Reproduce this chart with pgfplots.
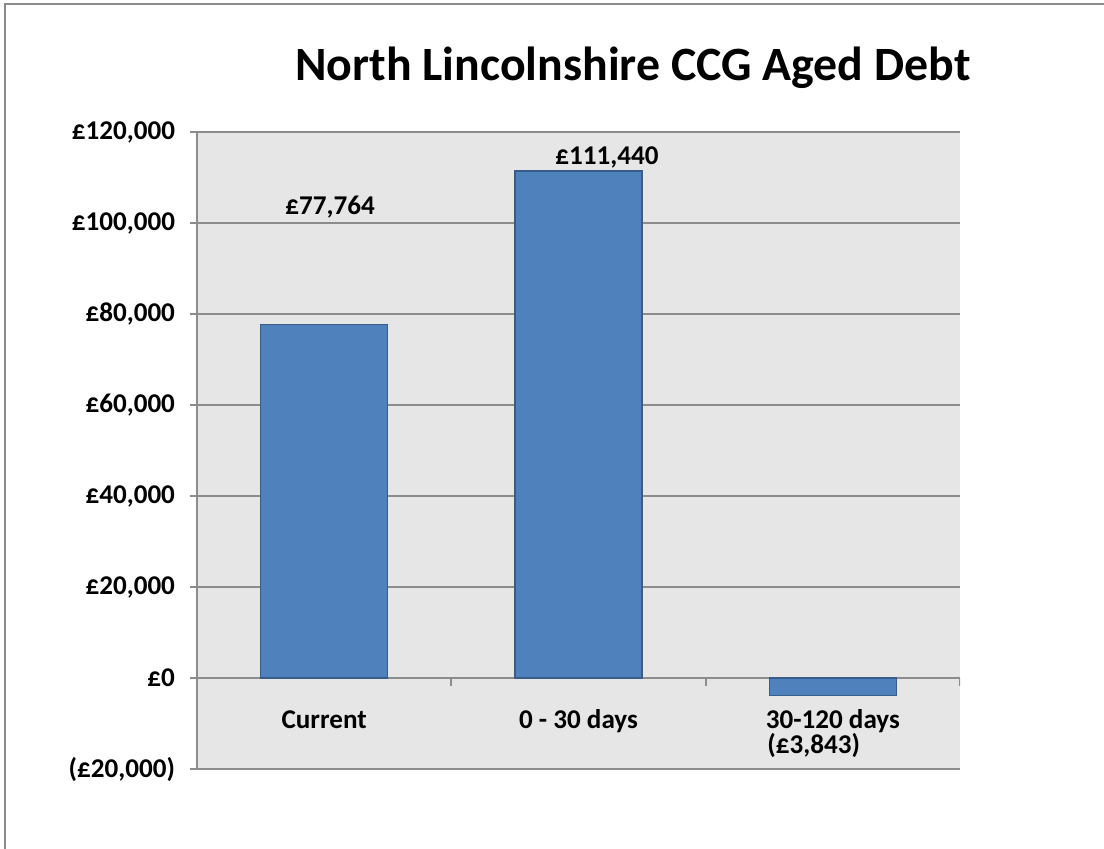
\documentclass[border=0pt]{standalone}
\usepackage{pgfplots}
\pgfplotsset{compat=1.18}
\usepackage{fontspec}
\setmainfont{Carlito}
\definecolor{barfill}{HTML}{4F81BD}
\definecolor{bardraw}{HTML}{385D8A}
\definecolor{plotbg}{HTML}{E6E6E6}
\definecolor{gridc}{HTML}{8C8C8C}
\newcommand{\lblfont}{\bfseries\fontsize{13.6}{16}\selectfont}
\begin{document}
\begin{tikzpicture}
\useasboundingbox (0,0) rectangle (552bp,424.5bp);
\fill[white] (0,0) rectangle (552bp,424.5bp);
\draw[gridc, line width=1bp] (2.5bp,0) -- (2.5bp,422.5bp) -- (552bp,422.5bp);
\node[font=\bfseries\fontsize{24}{28}\selectfont] at (316.5bp,390.5bp) {North Lincolnshire CCG Aged Debt};
\begin{axis}[
  at={(98.5bp,40bp)}, anchor=south west,
  scale only axis, width=381.5bp, height=318.5bp,
  xmin=-0.5, xmax=2.5, ymin=-20000, ymax=120000,
  scaled y ticks=false,
  axis background/.style={fill=plotbg},
  x axis line style={draw=none},
  y axis line style={draw=gridc, line width=1bp},
  axis x line*=bottom, axis y line*=left,
  ytick={-20000,0,20000,40000,60000,80000,100000,120000},
  yticklabels={{(£20,000)},{£0},{£20,000},{£40,000},{£60,000},{£80,000},{£100,000},{£120,000}},
  ymajorgrids, grid style={draw=gridc, line width=1bp},
  ytick style={draw=gridc, line width=1bp},
  tick align=outside, major tick length=3.5bp,
  yticklabel style={font=\lblfont, text=black, xshift=-4bp},
  xtick={0,1,2},
  xticklabels={Current,0 - 30 days,30-120 days},
  x tick style={draw=none},
  xticklabel style={font=\lblfont, text=black, anchor=base, yshift=24bp},
  ybar, bar width=0.5,
]
\addplot[fill=barfill, draw=bardraw, line width=0.6bp] coordinates {(0,77764) (1,111440) (2,-3843)};
\draw[gridc, line width=1bp] (axis cs:0.5,0) -- ([yshift=-4bp]axis cs:0.5,0);
\draw[gridc, line width=1bp] (axis cs:1.5,0) -- ([yshift=-4bp]axis cs:1.5,0);
\draw[gridc, line width=1bp] (axis cs:2.5,0) -- ([yshift=-4bp]axis cs:2.5,0);
\node[font=\lblfont] at (axis cs:0.023,103500) {£77,764};
\node[font=\lblfont] at (axis cs:1.112,114300) {£111,440};
\node[font=\lblfont, anchor=base west, inner sep=0pt] at (axis cs:1.741,-16484) {(£3,843)};
\end{axis}
\end{tikzpicture}
\end{document}
